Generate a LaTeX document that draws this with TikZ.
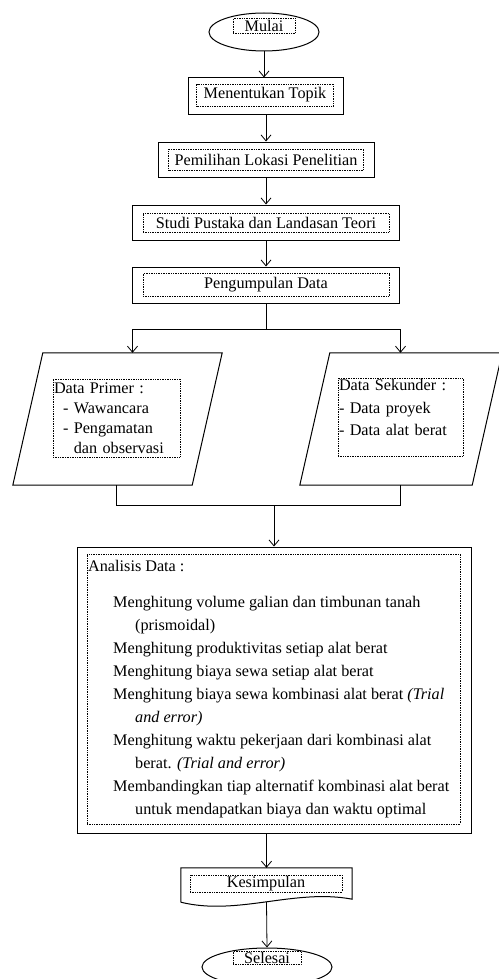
\documentclass[tikz,border=0pt]{standalone}
\usepackage{fontspec}
\setmainfont{Liberation Serif}
\usepackage{tikz}
\usetikzlibrary{
  shapes.geometric,
  arrows.meta,
  positioning,
  calc
}

\begin{document}
\begin{tikzpicture}[
  x=1pt, y=-1pt,
  every node/.style={font=\fontsize{16.2}{20}\selectfont},
  terminal/.style={
    ellipse, draw, line width=1pt,
    minimum width=110pt, minimum height=38pt, inner sep=0pt
  },
  proses/.style={rectangle, draw, line width=1pt, inner sep=0pt},
  isian/.style={rectangle, draw, densely dotted, line width=0.7pt, inner sep=1pt},
  masukan/.style={rectangle, minimum height=132pt, inner sep=0pt},
  bingkai/.style={draw, line width=1pt},
  panah/.style={draw, line width=0.8pt, -{Straight Barb[length=6pt,width=10pt]}},
  garis/.style={draw, line width=0.8pt}
]
  \useasboundingbox (0,0) rectangle (498,979);

  \node[terminal] (mulai) at (264,32) {};
  \node[isian, minimum width=62pt, minimum height=15pt] (mulaiteks) at (264,26) {Mulai};

  \node[proses, minimum width=155pt, minimum height=37pt] (topik) at (266,96.5) {};
  \node[isian, minimum width=137pt, minimum height=22pt] (topikteks) at (265,95) {Menentukan Topik};

  \node[proses, minimum width=216pt, minimum height=35pt] (lokasi) at (266,159.5) {};
  \node[isian, minimum width=195pt, minimum height=21pt] (lokasiteks) at (lokasi) {Pemilihan Lokasi Penelitian};

  \node[proses, minimum width=267pt, minimum height=35pt] (pustaka) at (266,222.5) {};
  \node[isian, minimum width=246pt, minimum height=19pt] (pustakateks) at (pustaka) {Studi Pustaka dan Landasan Teori};

  \node[proses, minimum width=267pt, minimum height=36pt] (kumpul) at (266,285) {};
  \node[isian, minimum width=246pt, minimum height=23pt] (kumpulteks) at (kumpul) {Pengumpulan Data};

  \node[masukan, minimum width=209pt] (primer) at (117.5,419) {};
  \draw[bingkai] (primer.south west) -- ($(primer.north west)+(30,0)$)
    -- (primer.north east) -- ($(primer.south east)+(-30,0)$) -- cycle;
  \node[isian, align=left, text width=125pt, minimum height=78pt] (primerteks) at (116.5,418) {Data Primer :\\
    \hspace*{9pt}- Wawancara\\
    \hspace*{9pt}- Pengamatan\\
    \hspace*{9pt}\phantom{- }dan observasi};

  \node[masukan, minimum width=202pt] (sekunder) at (401,419) {};
  \draw[bingkai] (sekunder.south west) -- ($(sekunder.north west)+(30,0)$)
    -- (sekunder.north east) -- ($(sekunder.south east)+(-30,0)$) -- cycle;
  \node[isian, align=left, text width=123pt, minimum height=78pt] (sekunderteks) at (400.5,417.5) {Data Sekunder :\\[3pt]
    - Data proyek\\[2pt]
    - Data alat berat\rule[-20pt]{0pt}{20pt}};

  \node[proses, minimum width=394pt, minimum height=286pt] (analisis) at (274,690) {};
  \node[isian, minimum width=373pt, minimum height=270pt] (analisisbingkai) at (273.5,689) {};
  \node[anchor=north west, align=left, inner sep=0pt, font=\fontsize{16.2}{23}\selectfont] (analisisteks) at (88,560) {Analisis Data :\\[13pt]
    \hspace*{25pt}Menghitung volume galian dan timbunan tanah\\
    \hspace*{47pt}(prismoidal)\\
    \hspace*{25pt}Menghitung produktivitas setiap alat berat\\
    \hspace*{25pt}Menghitung biaya sewa setiap alat berat\\
    \hspace*{25pt}Menghitung biaya sewa kombinasi alat berat \textit{(Trial}\\
    \hspace*{47pt}\textit{and error)}\\
    \hspace*{25pt}Menghitung waktu pekerjaan dari kombinasi alat\\
    \hspace*{47pt}berat. \textit{(Trial and error)}\\
    \hspace*{25pt}Membandingkan tiap alternatif kombinasi alat berat\\
    \hspace*{47pt}untuk mendapatkan biaya dan waktu optimal};

  \node[rectangle, inner sep=0pt, minimum width=171pt, minimum height=34pt] (kesimpulan) at (266.5,885) {};
  \node[isian, minimum width=152pt, minimum height=17pt] (kesimpulanteks) at (266,883.5) {Kesimpulan};
  \draw[bingkai] (kesimpulan.south west) -- (kesimpulan.north west)
    -- (kesimpulan.north east) -- ($(kesimpulan.south east)+(0,-3)$)
    .. controls ($(kesimpulan.south west)+(114,-14)$) and ($(kesimpulan.south west)+(57,14)$)
    .. (kesimpulan.south west);

  \node[terminal, minimum width=130pt] (selesai) at (267,967) {};
  \node[isian, minimum width=68pt, minimum height=13pt] (selesaiteks) at (267,958) {Selesai};

  \draw[panah] (mulai.south) -- (mulai.south |- topik.north);
  \draw[panah] (topik.south) -- (lokasi.north);
  \draw[panah] (lokasi.south) -- (pustaka.north);
  \draw[panah] (pustaka.south) -- (kumpul.north);
  \coordinate (cabang) at (266,329);
  \draw[garis] (kumpul.south) -- (cabang);
  \draw[panah] (cabang) -| ($(primer.north)+(15,0)$);
  \draw[panah] (cabang) -| (sekunderteks.north |- sekunder.north);
  \coordinate (gabung) at (274,505);
  \draw[garis] (primerteks.south |- primer.south) |- (gabung);
  \draw[garis] (sekunderteks.south |- sekunder.south) |- (gabung);
  \draw[panah] (gabung) -- (analisis.north);
  \draw[panah] (kesimpulan.north |- analisis.south) -- (kesimpulan.north);
  \draw[panah] (kesimpulan.south) -- (selesai.north);
\end{tikzpicture}
\end{document}
